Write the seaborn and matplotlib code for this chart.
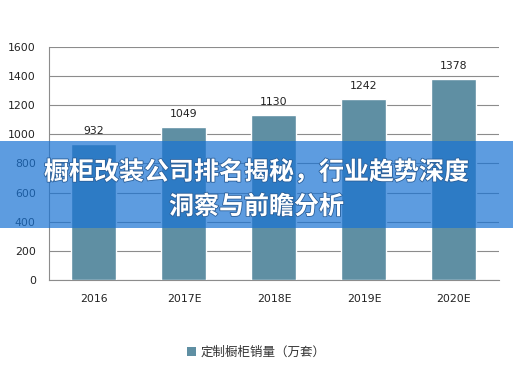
import pandas as pd
import matplotlib
matplotlib.use("Agg")
import matplotlib.pyplot as plt
import matplotlib.patheffects as pe
from matplotlib.patches import Patch, Rectangle
import seaborn as sns

# data
years = ["2016", "2017E", "2018E", "2019E", "2020E"]
sales = [932, 1049, 1130, 1242, 1378]
y_ticks = [0, 200, 400, 600, 800, 1000, 1200, 1400, 1600]
series_name = "定制橱柜销量（万套）"
banner_lines = ["橱柜改装公司排名揭秘，行业趋势深度", "洞察与前瞻分析"]

BAR = "#5f8fa3"
GRID = "#8c8c8c"
TEXT = "#222222"

sns.set_style("white")
plt.rcParams["font.family"] = ["DejaVu Sans", "Noto Sans CJK SC"]

df = pd.DataFrame({"year": years, "sales": sales})

fig = plt.figure(figsize=(5.13, 3.71), dpi=100)
ax = fig.add_axes([0.0955, 0.2453, 0.8772, 0.628])

sns.barplot(data=df, x="year", y="sales", color=BAR, width=0.5,
            saturation=1, ax=ax, zorder=3)

ax.set_ylim(0, 1600)
ax.set_yticks(y_ticks)
ax.yaxis.grid(True, color=GRID, linewidth=0.8, zorder=0)
ax.set_axisbelow(True)
for side in ("top", "right"):
    ax.spines[side].set_visible(False)
for side in ("left", "bottom"):
    ax.spines[side].set_color(GRID)
    ax.spines[side].set_linewidth(0.8)
ax.tick_params(axis="y", length=0, pad=9.5, labelsize=7.8, labelcolor=TEXT)
ax.tick_params(axis="x", length=0, pad=10, labelsize=7.8, labelcolor=TEXT)
ax.set_xlabel("")
ax.set_ylabel("")

# value labels above the bars
for bar, val in zip(ax.patches, sales):
    ax.annotate(f"{val}", (bar.get_x() + bar.get_width() / 2, bar.get_height()),
                xytext=(0, 6), textcoords="offset points",
                ha="center", va="bottom", fontsize=7.8, color=TEXT)

fig.legend(handles=[Patch(facecolor=BAR, edgecolor="none")],
           labels=[series_name], loc="center", bbox_to_anchor=(0.5, 0.051),
           frameon=False, handlelength=0.7, handleheight=0.7, handletextpad=0.4,
           prop={"family": ["Noto Sans CJK SC"], "size": 9}, labelcolor="#333333")

# translucent title banner across the middle
fig.patches.append(Rectangle((0, 0.3854), 1, 0.2345, transform=fig.transFigure,
                             facecolor="#1973d4", alpha=0.7, edgecolor="none",
                             zorder=5))
for line, y in zip(banner_lines, [0.5364, 0.442]):
    fig.text(0.5, y, line, ha="center", va="center", color="white",
             fontsize=18, fontweight="bold", family=["Noto Sans CJK SC"],
             zorder=6,
             path_effects=[pe.withStroke(linewidth=1.2, foreground="#2a5f9a")])

fig.savefig("out.png", dpi=100)
